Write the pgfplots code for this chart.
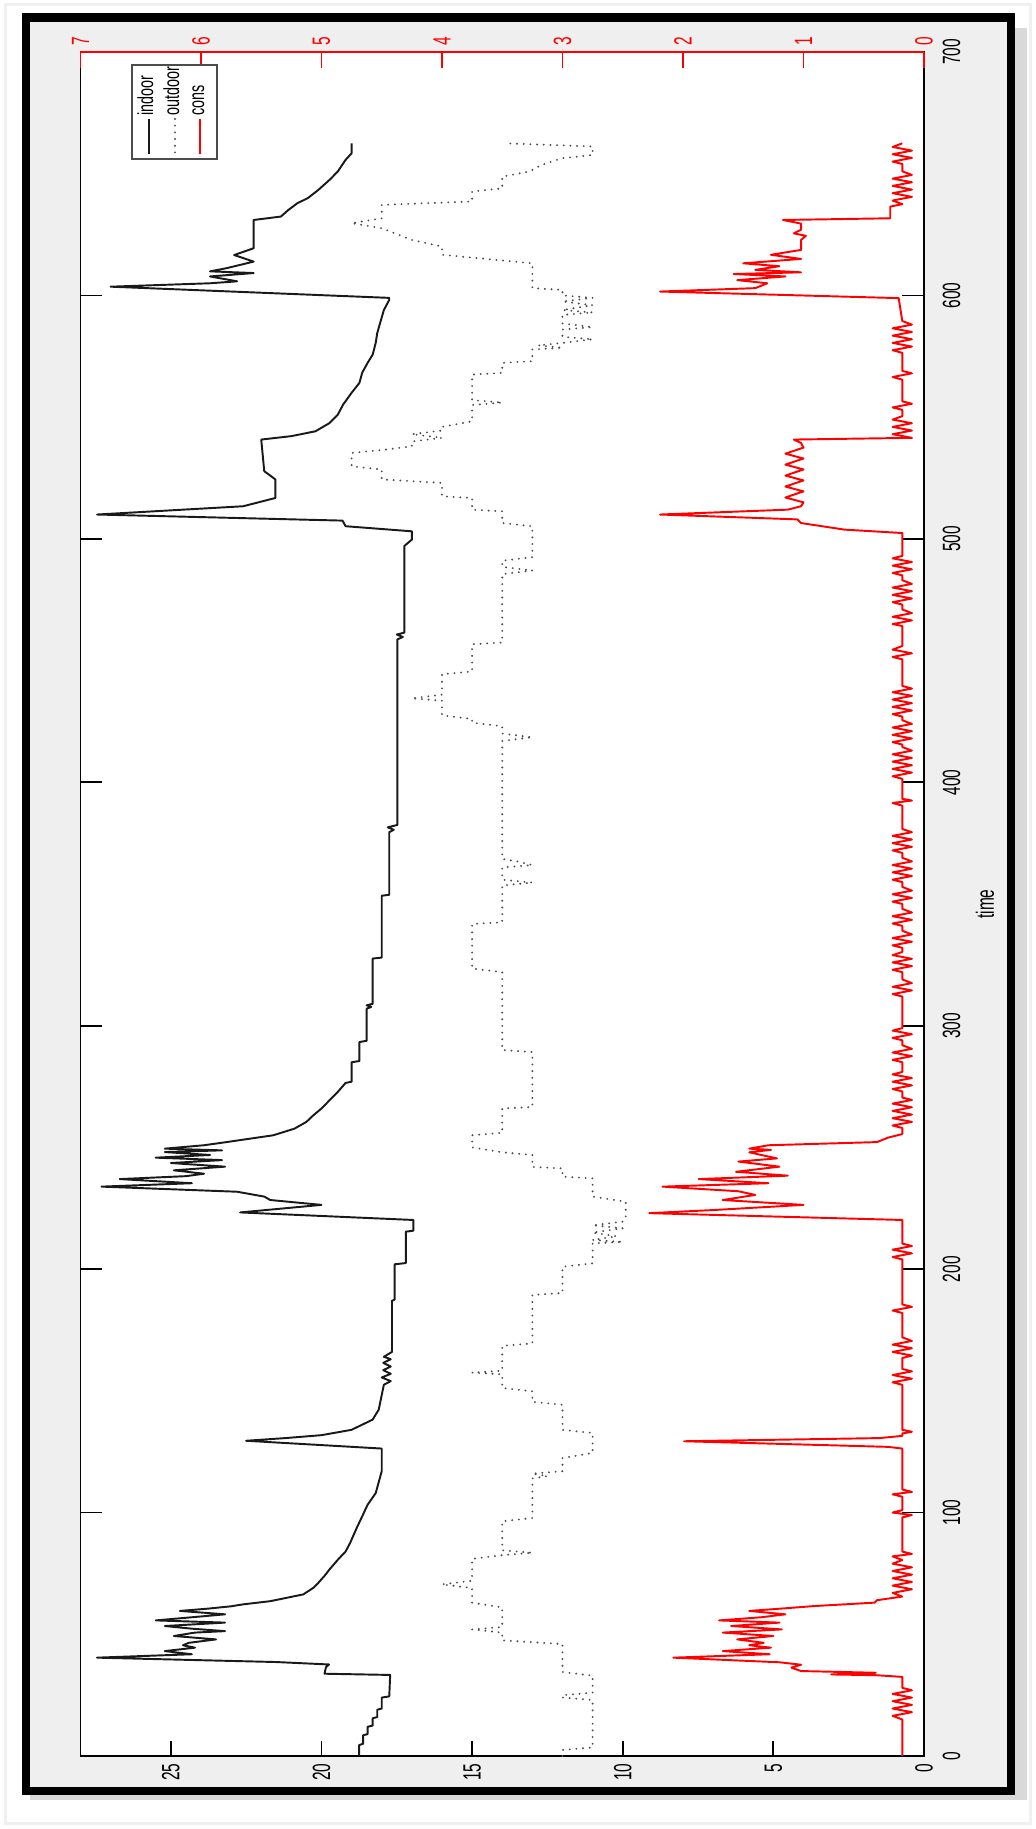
\documentclass[border=0pt]{standalone}
\usepackage{fontspec}
\setmainfont{Liberation Sans}[FakeStretch=0.62]
\newfontfamily\legfont{Liberation Sans}[FakeStretch=0.66]
\usepackage{pgfplots}
\pgfplotsset{compat=1.18}
\definecolor{figbg}{RGB}{239,239,239}
\newcommand\tickfont{\fontsize{7.1}{8}\selectfont}
\newcommand\legsize{\legfont\fontsize{6.2}{7}\selectfont}
\begin{document}
\begin{tikzpicture}
\begin{scope}[x=0.1mm,y=-0.1mm]
\fill[white] (0,0) rectangle (1035,1829);
\draw[gray!12, line width=0.3mm] (5,5) rectangle (1030,1823);
\fill[gray!30] (1015,28) rectangle (1027,1800);
\fill[gray!30] (30,1795) rectangle (1027,1800);
\fill[black] (22,13) rectangle (1015,1795);
\fill[figbg] (30,22) rectangle (1007,1787);
\end{scope}
\begin{axis}[
  at={(8.05mm,-175.6mm)}, anchor=south west,
  scale only axis, width=84.35mm, height=170.4mm,
  xmin=0, xmax=28, ymin=0, ymax=700, x dir=reverse,
  axis background/.style={fill=white},
  axis line style={black, line width=0.5pt},
  xtick={0,5,10,15,20,25}, ytick={0,100,200,300,400,500,600,700},
  xtick pos=left, ytick pos=both, yticklabel pos=right,
  tick align=inside,
  major tick length=2.2mm,
  xtick style={/pgfplots/major tick length=1.55mm},
  tick style={black, line width=0.5pt},
  /pgf/number format/assume math mode=true,
  xticklabel style={rotate=90, anchor=east, inner sep=0.7mm, font=\tickfont},
  yticklabel style={rotate=90, anchor=north, inner sep=1.8mm, font=\tickfont},
  ylabel={time},
  every axis y label/.style={at={([xshift=5.1mm]axis description cs:1,0.5)}, anchor=north, rotate=90, inner sep=0pt, font=\tickfont},
]
% indoor (value, time)
\addplot[black!90, line width=0.55pt, line join=round] coordinates {
(18.75,0) (18.75,4.5) (18.62,5) (18.62,8.5) (18.47,9) (18.47,12) (18.3,12.5) (18.3,15.5)
(18.15,16) (18.15,19) (18.0,19.5) (18.0,24) (17.75,24.5) (17.72,33.3) (19.9,33.8) (19.85,36.5)
(19.75,37.6) (21.5,38.6) (27.45,40.4) (24.3,41.8) (25.2,43.1) (24.2,44.5) (24.6,45.5) (24.4,46.5)
(23.5,47.9) (24.9,49.3) (24.2,50.7) (23.2,51.3) (24.3,52.3) (25.2,53.4) (23.2,54.8) (25.5,55.7)
(24.3,57) (23.2,58.2) (24.7,59.6) (23.8,60.5) (23.0,61.5) (22.6,62.3) (21.7,63.6) (20.6,66.4)
(20.27,69.1) (20.1,71.2) (19.9,74) (19.73,76.7) (19.5,80) (19.46,80.6) (19.2,84) (19.05,87.5)
(18.83,93.7) (18.65,98.4) (18.47,103.2) (18.2,108) (18.0,117) (18.0,126.3) (22.5,129.5) (21.2,130.6)
(20.0,131.8) (19.0,134) (18.65,136.1) (18.3,138.2) (18.1,142.3) (17.93,152.5) (17.7,154) (18.0,155.5)
(17.7,157) (17.95,158.5) (17.7,160) (17.95,161.5) (17.7,163) (17.93,164) (17.66,166) (17.66,187)
(17.57,187.5) (17.57,202) (17.2,202.5) (17.2,215.4) (16.95,215.8) (16.95,220.2) (22.7,223.3) (20.0,226.4)
(21.7,228.4) (21.9,229.8) (22.8,231.8) (27.3,233.9) (24.3,235.3) (26.7,237.0) (24.5,238.2) (23.9,239.2)
(24.9,240.6) (23.2,242.1) (25.0,243.6) (23.3,244.8) (25.5,245.8) (23.7,246.9) (25.2,248.1) (23.3,248.8)
(25.2,249.5) (23.9,250.9) (23.15,252.2) (21.6,255) (20.9,257.7) (20.5,260.5) (20.27,263.2) (20.0,266)
(19.73,269.4) (19.46,272.8) (19.2,276.5) (19.0,277) (19.0,285) (18.74,285.5) (18.74,293.3) (18.5,293.8)
(18.5,307) (18.35,307.7) (18.5,308.4) (18.3,309) (18.3,327.6) (18.0,328) (18.0,353.4) (17.75,353.8)
(17.75,379.5) (17.6,380.5) (17.8,381.5) (17.48,382.5) (17.48,458.7) (17.3,459.7) (17.5,460.7) (17.25,461.5)
(17.25,497.1) (17.2,497.6) (17.0,499.7) (17.0,503.1) (19.2,505.2) (19.3,507.5) (27.45,510) (22.6,513.4)
(21.53,516.8) (21.53,524.4) (21.7,526) (21.9,527.8) (22.0,540.8) (21.0,542.2) (20.2,544.2) (19.73,547.6)
(19.46,551) (19.28,555.2) (19.0,560) (18.74,564.1) (18.65,568.2) (18.47,572.3) (18.3,575.7) (18.2,580.5)
(18.15,584.5) (17.93,594) (17.75,598.2) (17.75,599) (27.0,603.6) (23.7,605) (22.8,605.8) (23.7,607.8)
(22.25,609.2) (23.7,609.9) (23.15,611.2) (22.25,613.9) (22.9,616.6) (22.25,619.4) (22.25,631) (21.35,632.4)
(21.1,635.1) (20.8,637.9) (20.45,640) (20.1,643.4) (19.73,647.5) (19.46,650.9) (19.2,655.7) (19.0,658.4)
(19.0,662.5)
};
% outdoor
\addplot[black!70, line width=0.6pt, line join=round, line cap=round, dash pattern=on 0pt off 1.9pt] coordinates {
(12.0,0) (12.0,2.5) (11.0,3.5) (11.0,23) (12.0,24) (12.0,25) (11.0,26) (11.0,33) (12.0,34.5)
(12.0,46) (14.0,47.5) (14.0,50.7) (15.0,52) (14.0,53) (14.0,61) (15.0,63) (15.0,69) (16.0,70.5)
(15.0,72) (15.0,81) (14.0,82.5) (13.0,83.5) (14.0,84.5) (14.0,96.4) (13.0,97.8) (13.0,114)
(12.5,115) (13.0,116) (12.0,117) (12.0,122.4) (11.0,124.5) (11.0,132.7) (12.0,134) (12.0,144.3)
(13.0,145.5) (13.0,149.8) (14.0,151.2) (14.0,156.8) (15.0,157.5) (14.0,158.3) (14.0,168.5) (13.0,169.5)
(13.0,189.4) (12.0,190.2) (12.0,201) (11.0,202.4) (11.0,210.6) (10.0,211.2) (11.0,212) (10.2,213.5)
(11.0,215) (10.0,216.8) (11.0,218) (10.0,219.5) (9.9,220.9) (9.9,227.7) (11.0,229.8) (11.0,237.3)
(12.0,238) (12.0,241.4) (13.0,242) (13.0,246.9) (14.0,248) (15.0,250) (15.0,255) (14.0,256)
(14.0,266) (13.0,266.6) (13.0,289.2) (14.0,290) (14.0,322) (15.0,323.5) (15.0,341.8) (14.0,342.5)
(14.0,357.6) (13.0,358.8) (14.0,360) (14.0,365) (13.0,366) (13.5,367.5) (14.0,368.5) (14.0,417)
(13.0,418.5) (14.0,420) (14.0,423) (15.0,424.5) (15.0,426) (16.0,427.5) (16.0,433.5) (17.0,434.5)
(16.0,436) (16.0,444.4) (15.0,445.5) (15.0,456.7) (14.0,457.4) (14.0,485.5) (13.0,487) (14.0,488.5)
(14.0,491) (13.0,492.5) (13.0,497) (13.0,505.2) (14.0,506.5) (14.0,511.3) (15.0,512) (15.0,516.8)
(16.0,517.5) (16.0,523) (18.0,524.4) (18.0,528.5) (19.0,529.8) (19.0,535.3) (18.0,536.5) (17.0,538)
(17.0,540) (16.0,541.5) (17.0,543) (16.0,544.5) (16.0,546) (15.0,548.3) (15.0,555) (14.0,556)
(15.0,557) (15.0,567.5) (14.0,568.2) (14.0,572.3) (13.0,573) (13.0,577.8) (12.0,578.5) (12.8,579.5)
(12.0,580.5) (11.0,582) (12.0,583) (12.0,586) (11.0,587) (12.0,588.5) (12.0,592) (11.0,593)
(12.0,594) (11.0,596) (12.0,597.5) (11.0,599) (12.0,600) (12.0,602.3) (13.0,603) (13.0,613.2)
(16.0,616.7) (16.0,620.1) (17.0,622.8) (18.0,627.6) (19.0,629.7) (18.0,631.7) (18.0,637.2) (15.0,638.6)
(15.0,642.7) (14.0,644.0) (14.0,648.8) (13.1,650.9) (12.7,653.6) (12.0,656.4) (11.0,657.7) (11.0,661.2)
(13.9,662.5)
};
\end{axis}
\begin{axis}[
  at={(8.05mm,-175.6mm)}, anchor=south west,
  scale only axis, width=84.35mm, height=170.4mm,
  xmin=0, xmax=7, ymin=0, ymax=700, x dir=reverse,
  axis x line*=top, hide y axis,
  x axis line style={red, line width=0.5pt, -},
  xtick={0,1,2,3,4,5,6,7},
  tick align=inside,
  major tick length=1.55mm,
  tick style={red, line width=0.5pt},
  /pgf/number format/assume math mode=true,
  xticklabel style={rotate=90, anchor=west, inner sep=0.6mm, font=\tickfont, text=red},
]
\addplot[red, line width=0.55pt, line join=round] coordinates {
(0.18,0) (0.18,15) (0.26,16.5) (0.10,18) (0.26,19.5) (0.10,21) (0.26,22.5) (0.10,24) (0.26,25.5)
(0.10,27) (0.18,28) (0.18,32.5) (0.40,33.2) (0.77,33.5) (0.40,34.2) (1.02,34.9) (1.10,36.3) (1.02,37.5)
(1.20,38.5) (2.08,40.4) (1.28,41.8) (1.67,43.1) (1.27,44.5) (1.45,45.5) (1.33,46.5) (1.55,47.9)
(1.25,49.3) (1.67,50.7) (1.18,52.0) (1.60,53.4) (1.20,54.8) (1.70,55.7) (1.35,57.0) (1.15,58.2)
(1.45,59.6) (1.20,60.5) (0.91,61.6) (0.41,63.0) (0.39,64.0) (0.18,65.5) (0.26,67) (0.10,68.5)
(0.26,70) (0.10,71.5) (0.26,73) (0.10,74.5) (0.26,76) (0.10,77.5) (0.26,79) (0.18,80.5) (0.26,82)
(0.10,83) (0.18,84) (0.18,98) (0.10,99) (0.26,100) (0.18,101) (0.18,106.5) (0.26,107.5) (0.10,108.5)
(0.18,109.5) (0.18,126.3) (0.30,127) (1.99,129.3) (0.37,130.6) (0.18,131.5) (0.18,132.5) (0.10,133.2)
(0.18,134) (0.18,152.5) (0.26,153.5) (0.10,155) (0.26,156.5) (0.10,158) (0.18,159) (0.18,163.5)
(0.10,164.5) (0.26,166) (0.10,167.5) (0.26,169) (0.10,170.5) (0.18,172) (0.18,182) (0.26,183)
(0.10,184.5) (0.18,185.5) (0.18,204) (0.26,205) (0.10,206.5) (0.26,208) (0.10,209.5) (0.18,210.5)
(0.18,220.2) (2.28,223.0) (1.74,224.3) (1.00,226.4) (1.67,228.4) (1.40,230.5) (1.54,232.0) (2.17,233.9)
(1.29,235.3) (1.87,237.0) (1.13,238.4) (1.56,240.0) (1.20,242.1) (1.54,244.2) (1.22,245.5) (1.35,246.9)
(1.45,248.0) (1.27,249.0) (1.45,249.5) (1.29,250.9) (0.39,252.2) (0.30,254) (0.18,255.5) (0.18,258)
(0.26,259) (0.10,260.5) (0.26,262) (0.10,263.5) (0.26,265) (0.10,266.5) (0.26,268) (0.10,269.5)
(0.18,270.5) (0.18,273) (0.26,274) (0.10,275.5) (0.26,277) (0.10,278.5) (0.26,280) (0.18,281)
(0.18,285) (0.26,286) (0.10,287.5) (0.26,289) (0.10,290.5) (0.18,292) (0.18,294) (0.26,295)
(0.10,296.5) (0.26,298) (0.18,299) (0.18,312) (0.26,313) (0.10,314.5) (0.26,316) (0.10,317.5)
(0.18,319) (0.18,322) (0.26,323) (0.10,324.5) (0.26,326) (0.10,327.5) (0.26,329) (0.18,330.3)
(0.18,332) (0.26,333) (0.10,334.5) (0.26,336) (0.10,337.5) (0.18,339) (0.18,341) (0.26,342)
(0.10,343.5) (0.26,345) (0.10,346.5) (0.18,348) (0.18,350) (0.26,351) (0.10,352.5) (0.26,354)
(0.10,355.5) (0.18,357) (0.18,359) (0.26,360) (0.10,361.5) (0.26,363) (0.10,364.5) (0.26,366)
(0.10,367.5) (0.18,369) (0.18,371) (0.26,372) (0.10,373.5) (0.26,375) (0.10,376.5) (0.26,378)
(0.10,379.5) (0.18,380.8) (0.18,390.4) (0.26,391.5) (0.10,392.5) (0.18,393.2) (0.18,401.4) (0.26,402.5)
(0.10,404) (0.26,405.5) (0.10,407) (0.26,408.5) (0.10,410) (0.26,411.5) (0.10,413) (0.18,414.5)
(0.18,415.5) (0.26,416.5) (0.10,418) (0.26,419.5) (0.10,421) (0.26,422.5) (0.10,424) (0.18,425.5)
(0.18,427) (0.26,428) (0.10,429.5) (0.26,431) (0.10,432.5) (0.26,434) (0.10,435.5) (0.26,437)
(0.10,438.5) (0.18,439.6) (0.18,450.5) (0.26,451.5) (0.10,453) (0.26,454.5) (0.18,456) (0.18,464.2)
(0.26,465) (0.10,466.5) (0.26,468) (0.10,469.5) (0.18,471) (0.18,473) (0.26,474) (0.10,475.5)
(0.26,477) (0.10,478.5) (0.26,480) (0.10,481.5) (0.18,483) (0.18,485) (0.26,486) (0.10,487.5)
(0.26,489) (0.10,490.5) (0.26,492) (0.18,493) (0.18,502.4) (0.66,503.8) (1.02,506.5) (1.05,508)
(2.19,510) (1.13,512) (1.02,513.4) (1.00,515) (1.15,517) (1.00,519.5) (1.15,521.5) (1.00,524)
(1.15,526) (1.00,528.5) (1.15,530.5) (1.00,533) (1.15,535) (1.00,537.5) (1.02,539.4) (1.08,540.8)
(0.10,541.5) (0.26,543) (0.10,544.5) (0.26,546) (0.10,547.5) (0.26,549) (0.18,550.4) (0.18,553)
(0.26,554) (0.10,555.5) (0.18,556.5) (0.18,565.4) (0.26,566.5) (0.10,568) (0.18,569) (0.18,576.4)
(0.26,577.5) (0.10,579) (0.26,580.5) (0.10,582) (0.26,583.5) (0.10,585) (0.26,586.5) (0.10,588)
(0.18,589.5) (0.21,598.9) (2.19,601.6) (1.40,603.0) (1.30,605.0) (1.55,606.3) (1.15,607.8) (1.58,608.8)
(1.02,609.5) (1.40,610.5) (1.20,612.0) (1.50,613.2) (1.02,615.0) (1.27,616.7) (1.02,618.7) (1.02,622.8)
(0.98,624.5) (1.08,625.5) (1.02,627.0) (1.02,629.5) (1.17,631.0) (0.28,631.7) (0.28,636.5) (0.18,637.5)
(0.26,639) (0.10,640.5) (0.26,642) (0.10,643.5) (0.26,645) (0.10,646.5) (0.26,648) (0.10,649.5)
(0.18,651) (0.18,654) (0.26,655) (0.10,656.5) (0.26,658) (0.10,659.5) (0.26,661) (0.18,662.5)
};
\end{axis}
\begin{scope}[x=0.1mm,y=-0.1mm]
\draw[black!70, fill=white, line width=0.4pt] (132,65) rectangle (217,159);
\draw[black!90, line width=0.55pt] (149,119) -- (149,154);
\draw[black!70, line width=0.6pt, line cap=round, dash pattern=on 0pt off 1.9pt] (175,119) -- (175,154);
\draw[red, line width=0.55pt] (200,119) -- (200,154);
\node[rotate=90, anchor=base west, inner sep=0pt, font=\legsize] at (153,116) {indoor};
\node[rotate=90, anchor=base west, inner sep=0pt, font=\legsize] at (179,116) {outdoor};
\node[rotate=90, anchor=base west, inner sep=0pt, font=\legsize] at (204,116) {cons};
\end{scope}
\end{tikzpicture}
\end{document}
